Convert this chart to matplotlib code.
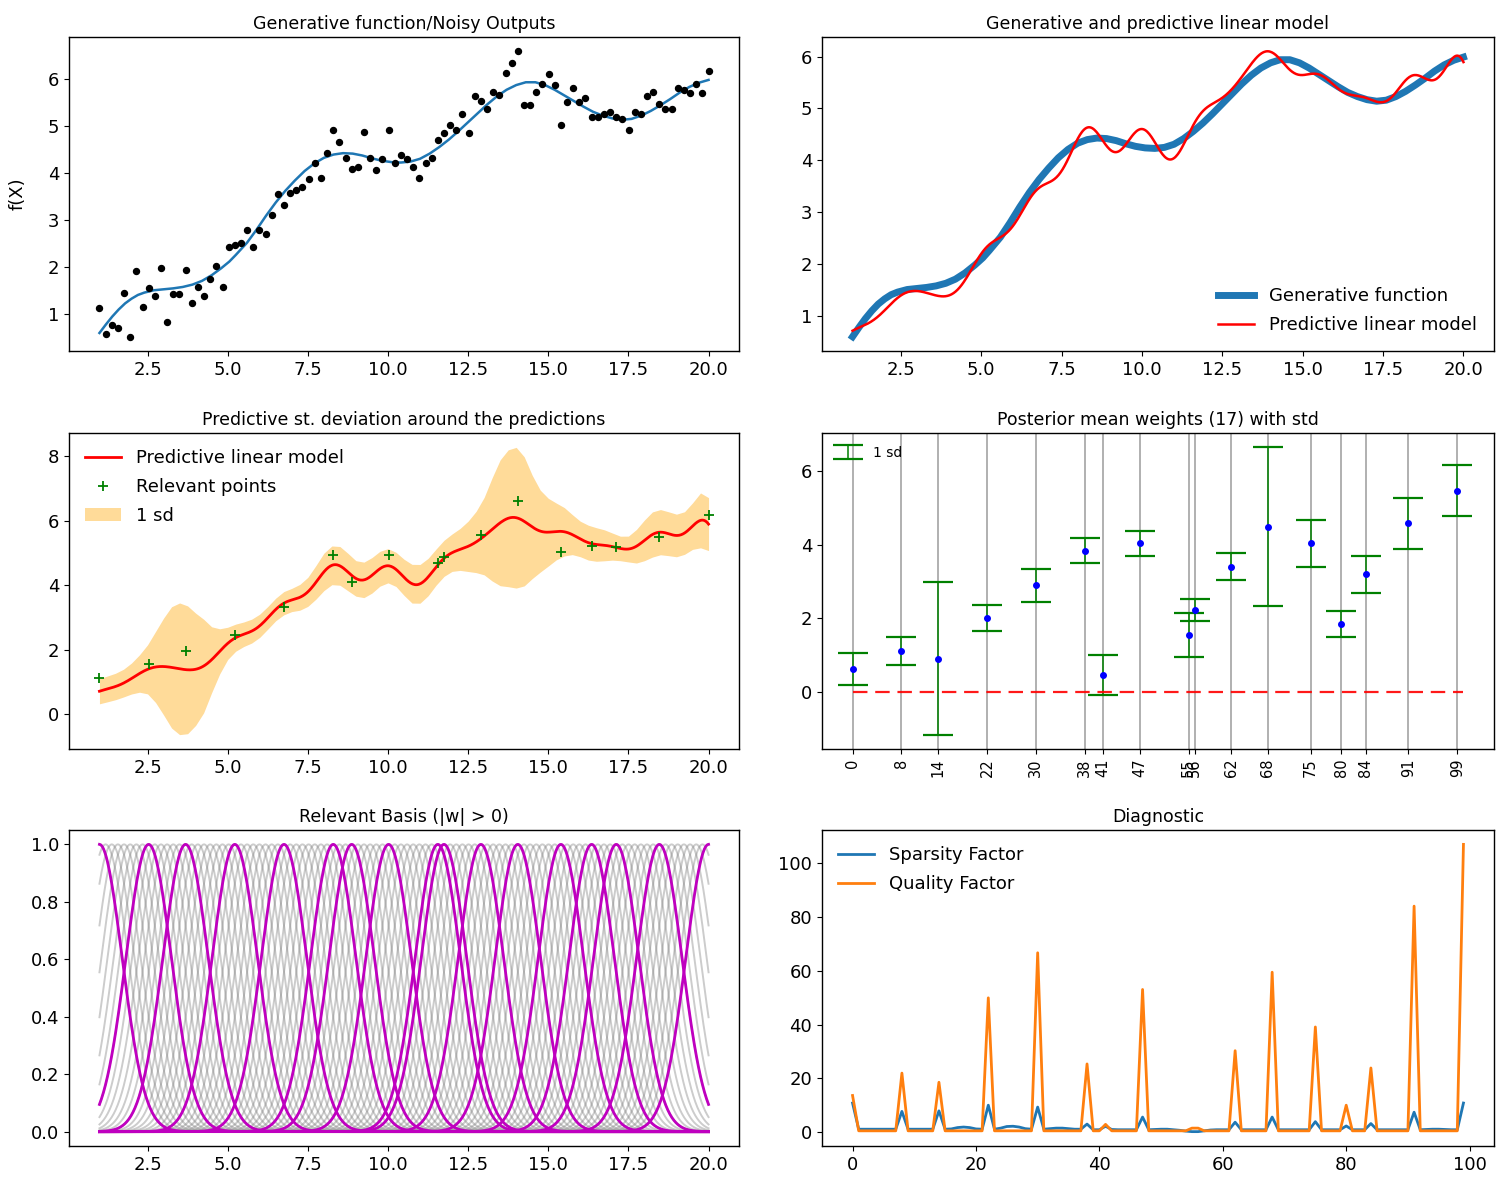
import numpy as np
import matplotlib
matplotlib.use("Agg")
import matplotlib.pyplot as plt
from matplotlib.patches import Patch
from matplotlib.lines import Line2D

# ---------------- data ----------------
x_start, x_end, n_points = 1.0, 20.0, 100

noisy_y = [1.13, 0.57, 0.78, 0.71, 1.45, 0.52, 1.92, 1.16, 1.56, 1.39,
           1.99, 0.84, 1.43, 1.43, 1.95, 1.23, 1.58, 1.39, 1.75, 2.02,
           1.58, 2.44, 2.47, 2.52, 2.80, 2.44, 2.80, 2.70, 3.12, 3.55,
           3.32, 3.58, 3.64, 3.71, 3.87, 4.21, 3.91, 4.43, 4.93, 4.66,
           4.33, 4.10, 4.13, 4.89, 4.33, 4.07, 4.30, 4.93, 4.23, 4.40,
           4.30, 4.13, 3.91, 4.23, 4.33, 4.70, 4.86, 5.03, 4.93, 5.26,
           4.86, 5.65, 5.55, 5.38, 5.74, 5.67, 6.14, 6.34, 6.60, 5.45,
           5.45, 5.74, 5.91, 6.11, 5.88, 5.02, 5.52, 5.81, 5.52, 5.61,
           5.21, 5.19, 5.27, 5.30, 5.20, 5.15, 4.92, 5.30, 5.27, 5.65,
           5.74, 5.48, 5.38, 5.38, 5.82, 5.78, 5.71, 5.91, 5.71, 6.17]

gen_x = [1.0, 1.2, 1.4, 1.6, 1.8, 2.0, 2.2, 2.4, 2.7, 3.0, 3.3, 3.6, 3.9,
         4.2, 4.5, 4.8, 5.05, 5.25, 5.6, 5.9, 6.2, 6.5, 6.8, 7.1, 7.4, 7.7,
         8.0, 8.3, 8.6, 8.9, 9.2, 9.5, 9.8, 10.1, 10.4, 10.7, 11.0, 11.3,
         11.6, 11.9, 12.2, 12.5, 12.8, 13.1, 13.4, 13.7, 14.0, 14.3, 14.6,
         14.9, 15.2, 15.5, 15.8, 16.1, 16.4, 16.7, 17.0, 17.3, 17.6, 17.9,
         18.2, 18.5, 18.8, 19.1, 19.4, 19.7, 20.0]
gen_y = [0.60, 0.78, 0.95, 1.10, 1.23, 1.33, 1.41, 1.46, 1.51, 1.53, 1.55,
         1.58, 1.63, 1.71, 1.83, 1.98, 2.12, 2.26, 2.52, 2.80, 3.10, 3.38,
         3.63, 3.85, 4.05, 4.21, 4.33, 4.40, 4.43, 4.42, 4.38, 4.32, 4.27,
         4.24, 4.23, 4.25, 4.31, 4.42, 4.56, 4.72, 4.90, 5.09, 5.28, 5.47,
         5.64, 5.78, 5.88, 5.94, 5.94, 5.88, 5.78, 5.66, 5.54, 5.42, 5.31,
         5.23, 5.17, 5.14, 5.16, 5.23, 5.33, 5.45, 5.58, 5.72, 5.84, 5.93,
         5.99]

relevant_idx = [0, 8, 14, 22, 30, 38, 41, 47, 55, 56, 62, 68, 75, 80, 84, 91, 99]
weights = [0.61, 1.11, 0.90, 2.00, 2.89, 3.83, 0.45, 4.03, 1.54, 2.22,
           3.40, 4.49, 4.03, 1.84, 3.19, 4.58, 5.46]
weights_std = [0.44, 0.385, 2.07, 0.345, 0.445, 0.34, 0.545, 0.34, 0.59, 0.30,
               0.36, 2.155, 0.63, 0.35, 0.505, 0.695, 0.695]
basis_width = 1.0

sd_x = [1.00, 1.25, 1.50, 1.75, 2.00, 2.25, 2.50, 2.75, 3.00, 3.25, 3.50,
        3.75, 4.00, 4.25, 4.50, 4.75, 5.00, 5.25, 5.50, 5.75, 6.00, 6.25,
        6.50, 6.75, 7.00, 7.25, 7.50, 7.75, 8.00, 8.25, 8.50, 8.75, 9.00,
        9.25, 9.50, 9.75, 10.00, 10.25, 10.50, 10.75, 11.00, 11.25, 11.50,
        11.75, 12.00, 12.25, 12.50, 12.75, 13.00, 13.25, 13.50, 13.75, 14.00,
        14.25, 14.50, 14.75, 15.00, 15.25, 15.50, 15.75, 16.00, 16.25, 16.50,
        16.75, 17.00, 17.25, 17.50, 17.75, 18.00, 18.25, 18.50, 18.75, 19.00,
        19.25, 19.50, 19.75, 20.00]
sd_vals = [0.39, 0.40, 0.41, 0.43, 0.48, 0.58, 0.76, 1.10, 1.50, 1.88, 2.04,
           1.98, 1.74, 1.45, 1.02, 0.70, 0.50, 0.42, 0.38, 0.37, 0.36, 0.35,
           0.35, 0.36, 0.36, 0.40, 0.45, 0.52, 0.58, 0.60, 0.60, 0.58, 0.55,
           0.55, 0.55, 0.54, 0.53, 0.53, 0.56, 0.60, 0.60, 0.58, 0.56,
           0.56, 0.58, 0.65, 0.78, 0.95, 1.20, 1.60, 1.95, 2.12, 2.18,
           2.00, 1.60, 1.27, 1.05, 0.88, 0.75, 0.62, 0.55, 0.54, 0.52,
           0.48, 0.42, 0.38, 0.40, 0.52, 0.63, 0.70, 0.70, 0.68, 0.66,
           0.66, 0.72, 0.85, 0.82]

sparsity = [10.9, 1.2, 1.2, 1.2, 1.2, 1.2, 1.2, 1.2, 7.8, 1.2,
            1.2, 1.2, 1.2, 1.2, 8.0, 1.2, 1.3, 1.8, 2.0, 1.8,
            1.3, 1.2, 10.1, 1.2, 1.6, 2.2, 2.3, 2.0, 1.4, 1.2,
            9.4, 1.2, 1.4, 1.6, 1.6, 1.4, 1.2, 1.2, 3.1, 1.0,
            1.0, 2.3, 1.1, 1.0, 1.0, 1.0, 1.0, 5.7, 1.0, 1.1,
            1.2, 1.2, 1.0, 0.8, 0.5, 0.3, 0.3, 0.6, 0.9, 1.0,
            1.0, 1.0, 3.8, 1.0, 1.0, 1.0, 1.0, 1.0, 5.7, 1.0,
            1.0, 1.0, 1.0, 1.0, 1.0, 4.0, 1.0, 1.0, 1.0, 1.0,
            2.4, 1.0, 1.0, 1.0, 3.3, 1.0, 1.0, 1.0, 1.0, 1.0,
            1.0, 7.5, 1.0, 1.1, 1.2, 1.2, 1.1, 1.0, 1.0, 10.9]
quality = [13.7, 0.6, 0.6, 0.6, 0.6, 0.6, 0.6, 0.6, 22.0, 0.6,
           0.6, 0.6, 0.6, 0.6, 18.6, 0.6, 0.6, 0.6, 0.6, 0.6,
           0.6, 0.6, 49.9, 0.6, 0.6, 0.6, 0.6, 0.6, 0.6, 0.6,
           66.6, 0.6, 0.6, 0.6, 0.6, 0.6, 0.6, 0.6, 25.4, 0.6,
           0.6, 3.0, 0.6, 0.6, 0.6, 0.6, 0.6, 53.0, 0.6, 0.6,
           0.6, 0.6, 0.6, 0.6, 0.6, 1.6, 1.6, 0.6, 0.6, 0.6,
           0.6, 0.6, 30.3, 0.6, 0.6, 0.6, 0.6, 0.6, 59.4, 0.6,
           0.6, 0.6, 0.6, 0.6, 0.6, 39.1, 0.6, 0.6, 0.6, 0.6,
           10.1, 0.6, 0.6, 0.6, 23.9, 0.6, 0.6, 0.6, 0.6, 0.6,
           0.6, 83.9, 0.6, 0.6, 0.6, 0.6, 0.6, 0.6, 0.6, 106.8]

# ---------------- derived through the model ----------------
X = np.linspace(x_start, x_end, n_points)
xs = np.linspace(x_start, x_end, 600)
rel = np.array(relevant_idx)
w = np.array(weights)


def basis(xv):
    xv = np.asarray(xv, dtype=float)
    return np.exp(-(xv[:, None] - X[None, :]) ** 2 / basis_width)


Phi_fine = basis(xs)
pred_mean = Phi_fine[:, rel] @ w
sdx = np.array(sd_x)
band_mean = basis(sdx)[:, rel] @ w
sd = np.array(sd_vals)

# ---------------- style ----------------
plt.rcParams.update({
    "font.family": "DejaVu Sans",
    "xtick.labelsize": 13,
    "ytick.labelsize": 13,
    "axes.titlesize": 12.5,
    "axes.linewidth": 1.0,
    "legend.fontsize": 13,
    "legend.labelspacing": 0.6,
})

W, H = 1497, 1182
fig = plt.figure(figsize=(W / 100, H / 100), dpi=100)


def add_ax(l, t, r, b):
    return fig.add_axes([l / W, 1 - b / H, (r - l) / W, (b - t) / H])


ax1 = add_ax(69, 37, 739, 351)
ax2 = add_ax(822, 37, 1494, 351)
ax3 = add_ax(69, 433, 739, 749)
ax4 = add_ax(822, 433, 1494, 749)
ax5 = add_ax(69, 830, 739, 1146)
ax6 = add_ax(822, 830, 1494, 1146)

# 1: generative function / noisy outputs
ax1.plot(gen_x, gen_y, color="C0", lw=1.8)
ax1.plot(X, noisy_y, "o", color="k", ms=4.3, mec="k")
ax1.set_title("Generative function/Noisy Outputs")
ax1.set_ylabel("f(X)", fontsize=13)
ax1.yaxis.set_label_coords(-0.063, 0.5)

# 2: generative vs predictive
ax2.plot(gen_x, gen_y, color="C0", lw=5, label="Generative function",
         solid_joinstyle="round")
ax2.plot(xs, pred_mean, color="r", lw=1.8, label="Predictive linear model")
ax2.set_title("Generative and predictive linear model")
ax2.legend(loc="lower right", frameon=False, borderaxespad=0.55)

# 3: predictive sd
ax3.fill_between(sdx, band_mean - sd, band_mean + sd, color="orange", alpha=0.4, lw=0)
ax3.plot(xs, pred_mean, color="r", lw=2)
ax3.plot(X[rel], np.array(noisy_y)[rel], "+", color="g", ms=7, mew=1.3)
ax3.set_title("Predictive st. deviation around the predictions")
handles3 = [Line2D([], [], color="r", lw=2),
            Line2D([], [], marker="+", color="g", ls="none", ms=7, mew=1.3),
            Patch(facecolor="orange", alpha=0.4)]
ax3.legend(handles3, ["Predictive linear model", "Relevant points", "1 sd"],
           loc="upper left", frameon=False)

# 4: posterior mean weights
ax4.errorbar(rel, w, yerr=weights_std, fmt="none", ecolor="g", elinewidth=1.1,
             capsize=11, capthick=1.6, label="1 sd")
ax4.plot(rel, w, ".", color="b", ms=8)
ax4.plot([0, n_points], [0, 0], color="r", lw=1.6, alpha=0.9,
         linestyle=(0, (6.5, 3.5)))
ax4.set_xticks(rel)
ax4.set_xticklabels([str(i) for i in relevant_idx], rotation=90, fontsize=10.5)
ax4.xaxis.grid(True, color="#b0b0b0", lw=1.4)
ax4.set_axisbelow(True)
ax4.set_yticks([0, 2, 4, 6])
ax4.set_title("Posterior mean weights ({}) with std".format(len(relevant_idx)))
ax4.legend(loc="upper left", frameon=False, fontsize=10)

# 5: basis functions
ax5.plot(xs, Phi_fine, color="0.5", alpha=0.4, lw=1.4)
ax5.plot(xs, Phi_fine[:, rel], color="m", lw=2)
ax5.set_title("Relevant Basis (|w| > 0)")

# 6: diagnostic
idx = np.arange(n_points)
ax6.plot(idx, sparsity, color="C0", lw=2, label="Sparsity Factor")
ax6.plot(idx, quality, color="C1", lw=2, label="Quality Factor")
ax6.set_title("Diagnostic")
ax6.legend(loc="upper left", frameon=False)

for ax in (ax1, ax2, ax3, ax5):
    ax.set_xticks([2.5, 5.0, 7.5, 10.0, 12.5, 15.0, 17.5, 20.0])

fig.savefig("out.png", dpi=100)
